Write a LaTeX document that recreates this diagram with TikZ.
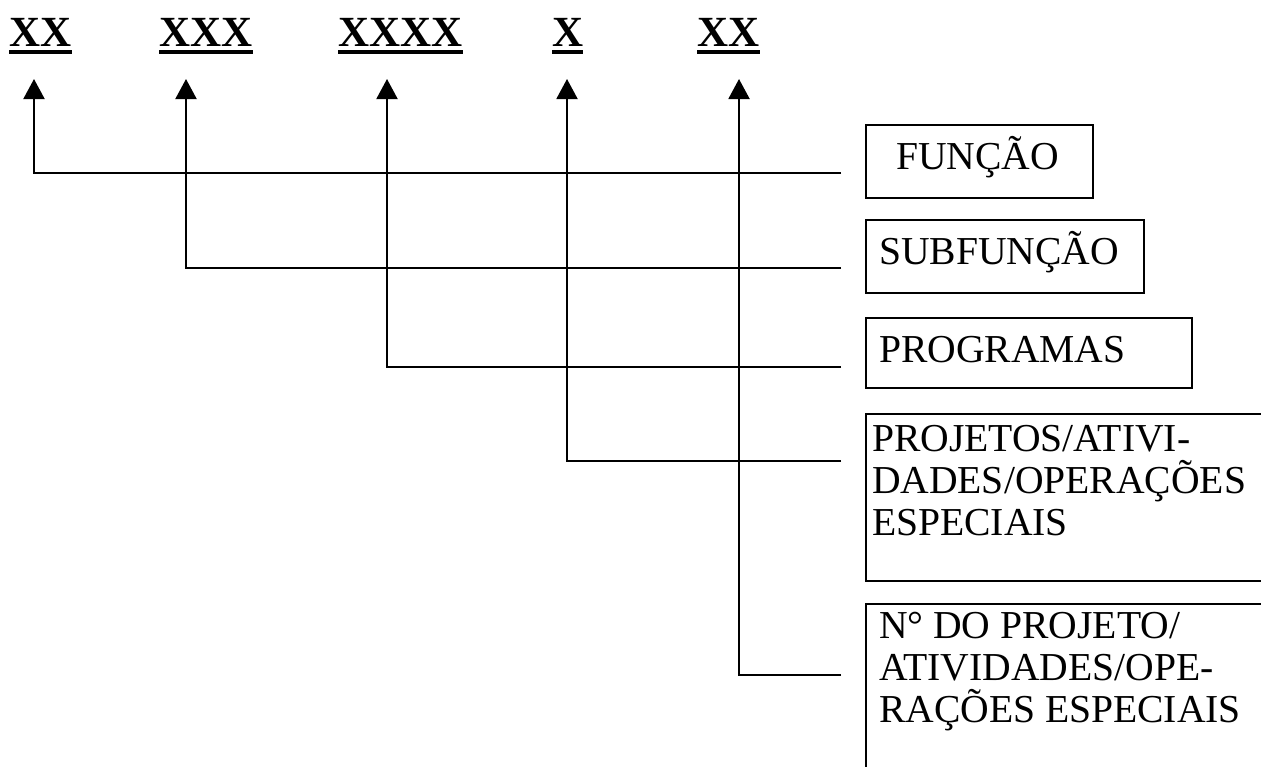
\documentclass[tikz,border=0pt]{standalone}
\usepackage{fontspec}
\setmainfont{Liberation Serif}
\usetikzlibrary{arrows.meta}
\newcommand{\ulcode}[1]{\setbox0\hbox{\bfseries #1}\rlap{\rule[-4pt]{\wd0}{2pt}}\box0}

\begin{document}
\begin{tikzpicture}[
    x=0.5pt, y=-0.5pt,
    code/.style={anchor=base west, inner sep=0pt, font=\fontsize{21.5pt}{24pt}\selectfont},
    box/.style={draw, line width=1pt, anchor=north west, align=flush left, inner xsep=6.5pt, inner ysep=0pt, text height=22pt, font=\fontsize{19.8pt}{21pt}\selectfont},
    arr/.style={-{Triangle[width=10.5pt,length=10pt]}, line width=1pt}
]
\useasboundingbox (0,0) rectangle (1261,766);
\clip (0,0) rectangle (1261,766);

% code digits
\node[code] (c1) at (9,46) {\ulcode{XX}};
\node[code] (c2) at (159,46) {\ulcode{XXX}};
\node[code] (c3) at (338,46) {\ulcode{XXXX}};
\node[code] (c4) at (552,46) {\ulcode{X}};
\node[code] (c5) at (697,46) {\ulcode{XX}};

% meaning boxes
\node[box, inner xsep=15pt, text width=83.5pt, text depth=14.5pt] (fun) at (865,124) {FUNÇÃO};
\node[box, text width=126pt, text depth=14.5pt] (subfun) at (865,219) {SUBFUNÇÃO};
\node[box, text width=150pt, text depth=13pt] (prog) at (865,317) {PROGRAMAS};
\node[box, inner xsep=3pt, text width=200pt, text height=18.5pt, text depth=65pt] (proj) at (865,413) {PROJETOS/ATIVI-\\DADES/OPERAÇÕES\\ESPECIAIS};
\node[box, text width=200pt, text height=17pt, text depth=90pt] (num) at (865,603) {N° DO PROJETO/\\ATIVIDADES/OPE-\\RAÇÕES ESPECIAIS};

% arrow tips under the digits, line ends beside the boxes
\coordinate (t1) at (34,79);
\coordinate (t2) at (186,79);
\coordinate (t3) at (387,79);
\coordinate (t4) at (567,79);
\coordinate (t5) at (739,79);
\coordinate (e1) at (841,173);
\coordinate (e2) at (841,268);
\coordinate (e3) at (841,367);
\coordinate (e4) at (841,461);
\coordinate (e5) at (841,675);

\foreach \i in {1,...,5}
    \draw[arr] (e\i) -| (t\i);
\end{tikzpicture}
\end{document}
